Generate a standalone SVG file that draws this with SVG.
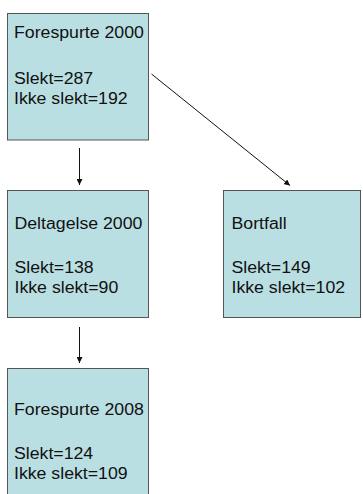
<svg xmlns="http://www.w3.org/2000/svg" width="363" height="494" viewBox="0 0 363 494">
<style>
.box{fill:#badfe3;stroke:#555;stroke-width:1}
.t{font-family:"Liberation Sans",Arial,sans-serif;font-size:16px;fill:#111}
.c{stroke:#111;stroke-width:1;fill:none;marker-end:url(#ah)}
</style>
<defs>
<marker id="ah" viewBox="0 0 6 6" refX="6" refY="3" markerWidth="6" markerHeight="6" markerUnits="userSpaceOnUse" orient="auto">
<path d="M0,0 L6,3 L0,6 z" fill="#111"/>
</marker>
</defs>
<rect width="363" height="494" fill="#fff"/>
<g id="connectors">
<line class="c" x1="79.5" y1="148" x2="79.5" y2="185"/>
<line class="c" x1="79.5" y1="327" x2="79.5" y2="363"/>
<line class="c" x1="151.5" y1="74" x2="290" y2="185.5"/>
</g>
<g id="forespurte2000">
<rect class="box" x="7.5" y="13.5" width="141" height="126.5"/>
<text class="t" x="14" y="38" textLength="129.9" lengthAdjust="spacingAndGlyphs">Forespurte 2000</text>
<text class="t" x="14" y="84" textLength="79.2" lengthAdjust="spacingAndGlyphs">Slekt=287</text>
<text class="t" x="14" y="104" textLength="113.6" lengthAdjust="spacingAndGlyphs">Ikke slekt=192</text>
</g>
<g id="deltagelse2000">
<rect class="box" x="7.5" y="190.5" width="141" height="127"/>
<text class="t" x="14.5" y="228.5" textLength="127.9" lengthAdjust="spacingAndGlyphs">Deltagelse 2000</text>
<text class="t" x="14.5" y="272.5" textLength="79.2" lengthAdjust="spacingAndGlyphs">Slekt=138</text>
<text class="t" x="14.5" y="292.5" textLength="103.8" lengthAdjust="spacingAndGlyphs">Ikke slekt=90</text>
</g>
<g id="bortfall">
<rect class="box" x="223.5" y="190.5" width="137" height="127"/>
<text class="t" x="231.5" y="228.5" textLength="55.1" lengthAdjust="spacingAndGlyphs">Bortfall</text>
<text class="t" x="231.5" y="272.5" textLength="79.2" lengthAdjust="spacingAndGlyphs">Slekt=149</text>
<text class="t" x="231.5" y="292.5" textLength="113.6" lengthAdjust="spacingAndGlyphs">Ikke slekt=102</text>
</g>
<g id="forespurte2008">
<rect class="box" x="7.5" y="368.5" width="141" height="140"/>
<text class="t" x="14" y="415" textLength="129.9" lengthAdjust="spacingAndGlyphs">Forespurte 2008</text>
<text class="t" x="14" y="458.5" textLength="79.2" lengthAdjust="spacingAndGlyphs">Slekt=124</text>
<text class="t" x="14" y="478.5" textLength="113.6" lengthAdjust="spacingAndGlyphs">Ikke slekt=109</text>
</g>
</svg>
